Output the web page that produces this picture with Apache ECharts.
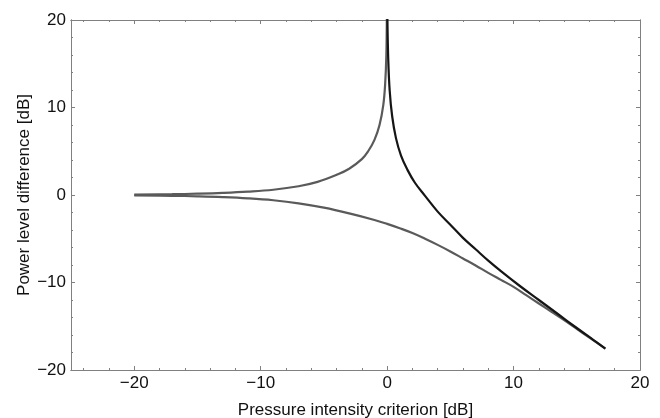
<!DOCTYPE html>
<html>
<head>
<meta charset="utf-8">
<script src="https://cdn.jsdelivr.net/npm/echarts@6/dist/echarts.min.js"></script>
<style>
html,body{margin:0;padding:0;background:#fff;}
#chart{width:660px;height:418px;}
</style>
</head>
<body>
<div id="chart"></div>
<script>
// Tick labels
const xMajorTicks = [-20, -10, 0, 10, 20];
const xMinorTicks = [-24, -22, -18, -16, -14, -12, -8, -6, -4, -2, 2, 4, 6, 8, 12, 14, 16, 18];
const yMajorTicks = [-20, -10, 0, 10, 20];
const yMinorTicks = [-18, -16, -14, -12, -8, -6, -4, -2, 2, 4, 6, 8, 12, 14, 16, 18];

// Upper-left branch (gray)
const upperX = [-20, -17, -15, -13, -11, -9, -7, -5.5, -4, -3, -2, -1.5, -1, -0.6, -0.3, -0.15, -0.06, -0.02];
const upperY = [0.05, 0.09, 0.15, 0.24, 0.38, 0.6, 1.0, 1.5, 2.3, 3.0, 4.1, 5.0, 6.3, 8.0, 10.3, 12.8, 16.0, 20.5];

// Right branch (black)
const rightX = [0.02, 0.08, 0.2, 0.4, 0.7, 1.1, 1.6, 2.2, 3, 4, 5, 6, 7, 8, 9, 10.5, 12, 13.5, 15, 16.3, 17.26];
const rightY = [20.5, 16.0, 12.0, 9.0, 6.5, 4.5, 2.9, 1.4, -0.1, -1.9, -3.4, -4.9, -6.2, -7.5, -8.7, -10.4, -12.0, -13.6, -15.2, -16.55, -17.55];

// Lower branch (gray)
const lowerX = [-20, -17, -15, -13, -11, -9, -7, -5, -3, -1, 0, 1, 2, 3, 4, 5, 6, 7, 8, 9, 10, 11, 12, 13, 14, 15, 16, 17.26];
const lowerY = [-0.05, -0.09, -0.15, -0.24, -0.38, -0.6, -0.95, -1.45, -2.1, -2.85, -3.3, -3.8, -4.35, -5.0, -5.7, -6.45, -7.25, -8.05, -8.9, -9.7, -10.5, -11.45, -12.4, -13.35, -14.3, -15.3, -16.3, -17.55];

function pairs(xs, ys) { return xs.map((x, i) => [x, ys[i]]); }

const FONT = 'Liberation Sans, Arial, sans-serif';
const axisGray = '#808080';

function fmt(v) { return v < 0 ? '\u2212' + Math.abs(v) : String(v); }

function xAx(pos, ticks, len, labels, extra) {
  return Object.assign({
    type: 'value', position: pos, min: -25, max: 20,
    axisLine: { show: true, onZero: false, lineStyle: { color: axisGray, width: 1 } },
    axisTick: { show: true, inside: true, length: len, customValues: ticks, lineStyle: { color: axisGray, width: 1 } },
    axisLabel: labels ? { show: true, customValues: ticks, margin: 5, color: '#111', fontSize: 17, fontFamily: FONT, formatter: fmt } : { show: false },
    splitLine: { show: false }
  }, extra || {});
}
function yAx(pos, ticks, len, labels, extra) {
  return Object.assign({
    type: 'value', position: pos, min: -20, max: 20,
    axisLine: { show: true, onZero: false, lineStyle: { color: axisGray, width: 1 } },
    axisTick: { show: true, inside: true, length: len, customValues: ticks, lineStyle: { color: axisGray, width: 1 } },
    axisLabel: labels ? { show: true, customValues: ticks, margin: 5, color: '#111', fontSize: 17, fontFamily: FONT, formatter: fmt } : { show: false },
    splitLine: { show: false }
  }, extra || {});
}

const chart = echarts.init(document.getElementById('chart'), null, { renderer: 'canvas' });

const lineBase = { type: 'line', showSymbol: false, symbol: 'none', smooth: 0.4, sampling: null, xAxisIndex: 0, yAxisIndex: 0, clip: true, z: 3 };

chart.setOption({
  animation: false,
  backgroundColor: '#fff',
  grid: { left: 71, top: 20, right: 20, bottom: 48, containLabel: false, outerBoundsMode: 'none' },
  xAxis: [
    xAx('bottom', xMajorTicks, 4, true, {
      name: 'Pressure intensity criterion [dB]', nameLocation: 'middle', nameGap: 32, nameMoveOverlap: false,
      nameTextStyle: { fontSize: 17, color: '#111', fontFamily: FONT }
    }),
    xAx('bottom', xMinorTicks, 2, false),
    xAx('top', xMajorTicks, 4, false),
    xAx('top', xMinorTicks, 2, false)
  ],
  yAxis: [
    yAx('left', yMajorTicks, 4, true, {
      name: 'Power level difference [dB]', nameLocation: 'middle', nameGap: 38, nameMoveOverlap: false,
      nameTextStyle: { fontSize: 17, color: '#111', fontFamily: FONT }
    }),
    yAx('left', yMinorTicks, 2, false),
    yAx('right', yMajorTicks, 4, false),
    yAx('right', yMinorTicks, 2, false)
  ],
  series: [
    Object.assign({}, lineBase, { name: 'upper', data: pairs(upperX, upperY), lineStyle: { color: '#5a5a5a', width: 2.2 } }),
    Object.assign({}, lineBase, { name: 'lower', data: pairs(lowerX, lowerY), lineStyle: { color: '#5a5a5a', width: 2.2 } }),
    Object.assign({}, lineBase, { name: 'right', data: pairs(rightX, rightY), lineStyle: { color: '#151515', width: 2.2 } })
  ]
});
</script>
</body>
</html>
